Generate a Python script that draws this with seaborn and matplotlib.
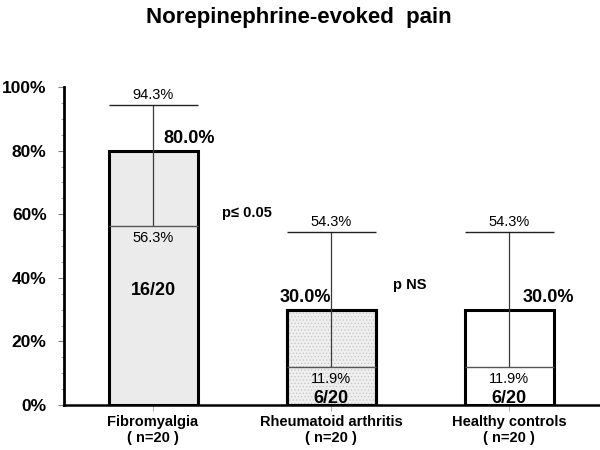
import matplotlib
matplotlib.use("Agg")
import matplotlib.pyplot as plt
from matplotlib.patches import Rectangle
from matplotlib.ticker import MultipleLocator, PercentFormatter
import seaborn as sns
import pandas as pd

groups = ['Fibromyalgia', 'Rheumatoid arthritis', 'Healthy controls']
n_total = [20, 20, 20]
n_pain = [16, 6, 6]
pct = [80.0, 30.0, 30.0]
ci_low = [56.3, 11.9, 11.9]
ci_high = [94.3, 54.3, 54.3]
fills = ['#ebebeb', '#efefef', '#ffffff']
p_texts = ['p\u2264 0.05', 'p NS']

df = pd.DataFrame({'Group': groups, 'Pct': pct})

sns.set_style('white')
plt.rcParams['font.family'] = ['Liberation Sans', 'DejaVu Sans']
plt.rcParams['text.color'] = 'black'
plt.rcParams['xtick.labelcolor'] = 'black'
plt.rcParams['ytick.labelcolor'] = 'black'
plt.rcParams['hatch.linewidth'] = 0.5

fig = plt.figure(figsize=(6, 4.5), dpi=100)
ax = fig.add_axes([64 / 600, 45 / 450, 1 - 64 / 600, 318 / 450])

sns.barplot(data=df, x='Group', y='Pct', hue='Group', palette=fills,
            width=0.5, legend=False, edgecolor='black', linewidth=2.2,
            saturation=1, ax=ax, zorder=2)

# fine dotted texture on the rheumatoid arthritis bar
p = ax.patches[1]
ax.add_patch(Rectangle((p.get_x(), p.get_y()), p.get_width(), p.get_height(),
                       fill=False, hatch='.....', edgecolor='#c4c4c4',
                       linewidth=0, zorder=2.5))
# redraw the outline on top of the texture
ax.add_patch(Rectangle((p.get_x(), p.get_y()), p.get_width(), p.get_height(),
                       fill=False, edgecolor='black', linewidth=2.2, zorder=2.6))

half = ax.patches[0].get_width() / 2
xs = range(len(groups))

# confidence intervals
ax.vlines(xs, ci_low, ci_high, color='#3a3a3a', lw=0.9, zorder=3)
ax.hlines(ci_high, [x - half for x in xs], [x + half for x in xs],
          color='#222222', lw=1.0, zorder=3)
ax.hlines(ci_low, [x - half for x in xs], [x + half for x in xs],
          color='#555555', lw=1.0, zorder=3)

pct_dx = [0.2, -0.146, 0.22]
count_y = [36, 2.2, 2.2]
for i in xs:
    ax.text(i, ci_high[i] + 1.0, f'{ci_high[i]:.1f}%', ha='center', va='bottom',
            fontsize=10.5, zorder=4)
    ax.text(i, ci_low[i] - 1.6, f'{ci_low[i]:.1f}%', ha='center', va='top',
            fontsize=10.5, zorder=4)
    ax.text(i + pct_dx[i], pct[i] + 1.0, f'{pct[i]:.1f}%', ha='center', va='bottom',
            fontsize=13, fontweight='bold', zorder=4)
    ax.text(i, count_y[i], f'{n_pain[i]}/{n_total[i]}', ha='center', va='center',
            fontsize=13, fontweight='bold', zorder=4)

ax.text(0.53, 60.4, p_texts[0], ha='center', va='center', fontsize=10.5, fontweight='bold')
ax.text(1.44, 37.7, p_texts[1], ha='center', va='center', fontsize=10.5, fontweight='bold')

ax.set_xlim(-0.5, 2.51)
ax.set_ylim(0, 100)
ax.yaxis.set_major_locator(MultipleLocator(20))
ax.yaxis.set_minor_locator(MultipleLocator(5))
ax.yaxis.set_major_formatter(PercentFormatter(decimals=0))
ax.set_xticks(list(xs))
ax.set_xticklabels([f'{g}\n( n={n} )' for g, n in zip(groups, n_total)],
                   fontsize=10.5, fontweight='bold', linespacing=1.25)
for lab in ax.get_yticklabels():
    lab.set_fontweight('bold')
    lab.set_fontsize(12.5)

ax.tick_params(axis='y', which='major', direction='out', length=4.5, width=0.8,
               color='#808080', pad=8, left=True)
ax.tick_params(axis='y', which='minor', direction='out', length=2.5, width=0.6,
               color='#909090', left=True)
ax.tick_params(axis='x', direction='out', length=4, width=0.6, color='#a0a0a0',
               pad=3, bottom=True)

sns.despine(ax=ax, top=True, right=True)
ax.spines['left'].set_linewidth(2.0)
ax.spines['bottom'].set_linewidth(1.8)
ax.spines['left'].set_color('black')
ax.spines['bottom'].set_color('black')
ax.set_xlabel('')
ax.set_ylabel('')

fig.text(0.498, 1 - 18 / 450, 'Norepinephrine-evoked  pain', ha='center', va='center',
         fontsize=16, fontweight='bold')

fig.savefig('out.png', dpi=100)
